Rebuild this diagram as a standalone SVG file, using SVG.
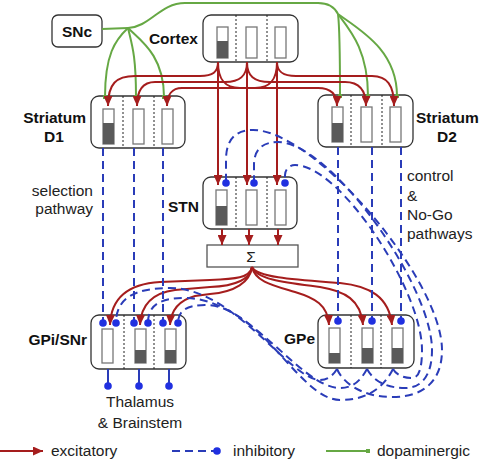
<svg xmlns="http://www.w3.org/2000/svg" width="483" height="461" viewBox="0 0 483 461">
<defs>
<marker id="arr" viewBox="0 0 10 9" refX="10" refY="4.5" markerWidth="10" markerHeight="9" markerUnits="userSpaceOnUse" orient="auto"><path d="M0,0 L10,4.5 L0,9 z" fill="#a51d1d"/></marker>
<marker id="dot" viewBox="0 0 8 8" refX="4" refY="4" markerWidth="8" markerHeight="8" markerUnits="userSpaceOnUse"><circle cx="4" cy="4" r="3.8" fill="#2030e0"/></marker>
<marker id="sq" viewBox="0 0 4 4" refX="2" refY="2" markerWidth="4" markerHeight="4" markerUnits="userSpaceOnUse" orient="auto"><rect width="4" height="4" fill="#66a844"/></marker>
</defs>
<style>
.box{fill:#fff;stroke:#333;stroke-width:1.3}
.div{stroke:#222;stroke-width:1;stroke-dasharray:2,2}
.bar{fill:#fff;stroke:#777;stroke-width:1.3}
.fl{fill:#5a5a5a}
.ex{fill:none;stroke:#a51d1d;stroke-width:2;marker-end:url(#arr)}
.in{fill:none;stroke:#2a3cb8;stroke-width:2;stroke-dasharray:8,5;marker-end:url(#dot)}
.ins{fill:none;stroke:#2a3cb8;stroke-width:2;marker-end:url(#dot)}
.da{fill:none;stroke:#66a844;stroke-width:2;marker-end:url(#sq)}
.dan{fill:none;stroke:#66a844;stroke-width:2}
.lb{font-family:"Liberation Sans",Arial,sans-serif;font-size:15.5px;font-weight:bold;fill:#111}
.tx{font-family:"Liberation Sans",Arial,sans-serif;font-size:15.5px;fill:#222}
</style>
<rect width="483" height="461" fill="#fff"/>

<g id="snc">
<rect class="box" x="52" y="15" width="50" height="32" rx="6"/>
<text class="lb" x="77" y="37" text-anchor="middle">SNc</text>
</g>

<g id="cortex">
<rect class="box" x="203" y="15" width="95" height="47" rx="8"/>
<line class="div" x1="236" y1="15" x2="236" y2="62"/>
<line class="div" x1="267" y1="15" x2="267" y2="62"/>
<rect class="bar" x="217" y="27" width="11" height="31"/><rect class="fl" x="217" y="41" width="11" height="17"/>
<rect class="bar" x="246" y="27" width="11" height="31"/>
<rect class="bar" x="275" y="27" width="11" height="31"/>
<text class="lb" x="198" y="44" text-anchor="end">Cortex</text>
</g>

<g id="striatum-d1">
<rect class="box" x="91" y="96" width="94" height="52" rx="8"/>
<line class="div" x1="123" y1="96" x2="123" y2="148"/>
<line class="div" x1="154" y1="96" x2="154" y2="148"/>
<rect class="bar" x="103" y="109" width="11" height="35"/><rect class="fl" x="103" y="123" width="11" height="21"/>
<rect class="bar" x="133" y="109" width="11" height="35"/>
<rect class="bar" x="162" y="109" width="11" height="35"/>
<text class="lb" x="86" y="123" text-anchor="end">Striatum</text>
<text class="lb" x="54" y="142" text-anchor="middle">D1</text>
</g>

<g id="striatum-d2">
<rect class="box" x="318" y="95" width="95" height="52" rx="8"/>
<line class="div" x1="351" y1="95" x2="351" y2="147"/>
<line class="div" x1="382" y1="95" x2="382" y2="147"/>
<rect class="bar" x="332" y="107" width="11" height="35"/><rect class="fl" x="332" y="123" width="11" height="19"/>
<rect class="bar" x="361" y="107" width="11" height="35"/>
<rect class="bar" x="390" y="107" width="11" height="35"/>
<text class="lb" x="416" y="123">Striatum</text>
<text class="lb" x="447" y="142" text-anchor="middle">D2</text>
</g>

<g id="stn">
<rect class="box" x="203" y="177" width="94" height="52" rx="8"/>
<line class="div" x1="236" y1="177" x2="236" y2="229"/>
<line class="div" x1="267" y1="177" x2="267" y2="229"/>
<rect class="bar" x="216" y="190" width="11" height="35"/><rect class="fl" x="216" y="206" width="11" height="19"/>
<rect class="bar" x="246" y="190" width="11" height="35"/>
<rect class="bar" x="275" y="190" width="11" height="35"/>
<text class="lb" x="199" y="212" text-anchor="end">STN</text>
</g>

<g id="sum">
<rect x="207" y="245" width="91" height="22" fill="#fff" stroke="#555" stroke-width="1.3"/>
<text class="tx" x="251" y="262" text-anchor="middle" font-size="16">Σ</text>
</g>

<g id="gpi-snr">
<rect class="box" x="91" y="315" width="95" height="54" rx="8"/>
<line class="div" x1="124" y1="315" x2="124" y2="369"/>
<line class="div" x1="154" y1="315" x2="154" y2="369"/>
<rect class="bar" x="102" y="329" width="11" height="34"/>
<rect class="bar" x="135" y="329" width="11" height="34"/><rect class="fl" x="135" y="350" width="11" height="13"/>
<rect class="bar" x="165" y="329" width="11" height="34"/><rect class="fl" x="165" y="350" width="11" height="13"/>
<text class="lb" x="87" y="345" text-anchor="end">GPi/SNr</text>
</g>

<g id="gpe">
<rect class="box" x="318" y="315" width="96" height="53" rx="8"/>
<line class="div" x1="351" y1="315" x2="351" y2="368"/>
<line class="div" x1="381" y1="315" x2="381" y2="368"/>
<rect class="bar" x="329" y="328" width="11" height="35"/><rect class="fl" x="329" y="353" width="11" height="10"/>
<rect class="bar" x="362" y="328" width="11" height="35"/><rect class="fl" x="362" y="348" width="11" height="15"/>
<rect class="bar" x="392" y="328" width="11" height="35"/><rect class="fl" x="392" y="348" width="11" height="15"/>
<text class="lb" x="315" y="344" text-anchor="end">GPe</text>
</g>

<g id="labels">
<text class="tx" x="93" y="196" text-anchor="end">selection</text>
<text class="tx" x="93" y="214" text-anchor="end">pathway</text>
<text class="tx" x="407" y="181">control</text>
<text class="tx" x="407" y="201">&amp;</text>
<text class="tx" x="407" y="220">No-Go</text>
<text class="tx" x="407" y="239">pathways</text>
<text class="tx" x="140" y="407" text-anchor="middle">Thalamus</text>
<text class="tx" x="140" y="428" text-anchor="middle">&amp; Brainstem</text>
</g>

<g id="connectors">
<!-- dopaminergic -->
<path class="dan" d="M102,29 L128,28 C150,27 160,3 185,3 L318,3 C330,3 335,8 338,14"/>
<path class="da" d="M128,28 C115,40 105,55 105,97"/>
<path class="da" d="M128,28 C132,45 136,55 136,97"/>
<path class="da" d="M128,28 C140,40 164,55 164,97"/>
<path class="da" d="M338,14 C340,30 340,60 340,96"/>
<path class="da" d="M338,14 C350,30 368,50 368,96"/>
<path class="da" d="M338,14 C360,30 397,50 397,96"/>
<!-- cortex excitatory -->
<path class="ex" d="M218,62 C218,72 213,76 200,76 L135,76 C116,76 108,84 108,106"/>
<path class="ex" d="M247,62 C247,76 240,82 225,82 L155,82 C143,82 137,90 137,106"/>
<path class="ex" d="M277,62 C277,80 270,88 255,88 L182,88 C172,88 167,95 167,106"/>
<path class="ex" d="M218,62 C218,80 225,88 240,88 L318,88 C331,88 337,95 337,106"/>
<path class="ex" d="M247,62 C247,76 254,82 270,82 L345,82 C359,82 366,90 366,106"/>
<path class="ex" d="M277,62 C277,72 283,76 296,76 L372,76 C387,76 394,85 394,106"/>
<path class="ex" d="M218,62 L218,185"/>
<path class="ex" d="M247,62 L247,185"/>
<path class="ex" d="M277,62 L277,185"/>
<!-- STN to sum -->
<path class="ex" d="M222,229 L222,245"/>
<path class="ex" d="M249,229 L249,245"/>
<path class="ex" d="M278,229 L278,245"/>
<!-- sum to GPi / GPe -->
<path class="ex" d="M252,267 C250,278 235,279 210,280 L160,282 C125,284 111,300 110,325"/>
<path class="ex" d="M252,267 C250,280 235,286 210,287 L175,290 C152,293 141,305 140,325"/>
<path class="ex" d="M252,267 C250,282 235,292 210,294 L195,296 C180,300 171,310 170,325"/>
<path class="ex" d="M252,267 C255,282 275,286 295,292 C315,298 328,305 329,325"/>
<path class="ex" d="M252,267 C256,280 290,283 320,287 C345,291 361,300 363,325"/>
<path class="ex" d="M252,267 C257,278 300,280 340,283 C370,286 389,297 392,325"/>
<!-- striatum inhibitory -->
<path class="in" d="M103,148 L103,323"/>
<path class="in" d="M134,148 L134,323"/>
<path class="in" d="M163,148 L163,323"/>
<path class="in" d="M338,147 L338,321"/>
<path class="in" d="M372,147 L372,321"/>
<path class="in" d="M401,147 L401,321"/>
<!-- GPe to STN -->
<path class="in" d="M337,369 C343,383 362,397 392,397 C425,397 442,380 442,350 C442,280 315,130 253,130 C235,130 226,140 226,160 L226,183"/>
<path class="in" d="M367,369 C373,380 385,388 405,388 C422,388 432,375 432,350 C432,285 330,142 278,142 C262,142 254,150 254,165 L254,183"/>
<path class="in" d="M393,369 C397,376 405,378 412,378 C419,378 422,368 422,350 C422,290 340,165 295,165 C289,165 285,170 285,175 L285,183"/>
<!-- GPe to GPi -->
<path class="in" d="M337,369 C332,377 327,380 320,380 C290,380 235,288 170,288 C135,288 116,298 116,323"/>
<path class="in" d="M367,369 C362,378 355,388 340,388 C300,388 250,298 185,298 C160,298 148,305 148,323"/>
<path class="in" d="M393,369 C385,385 370,400 340,400 C300,400 260,305 205,305 C188,305 178,310 178,323"/>
<!-- GPi output -->
<path class="ins" d="M108,369 L108,386"/>
<path class="ins" d="M139,369 L139,386"/>
<path class="ins" d="M169,369 L169,386"/>
</g>

<g id="legend">
<path class="ex" d="M0,451 L43,451"/>
<text class="tx" x="51" y="456">excitatory</text>
<path class="in" d="M172,451 L217,451"/>
<text class="tx" x="233" y="456">inhibitory</text>
<path class="da" d="M326,451 L368,451"/>
<text class="tx" x="377" y="456">dopaminergic</text>
</g>
</svg>
